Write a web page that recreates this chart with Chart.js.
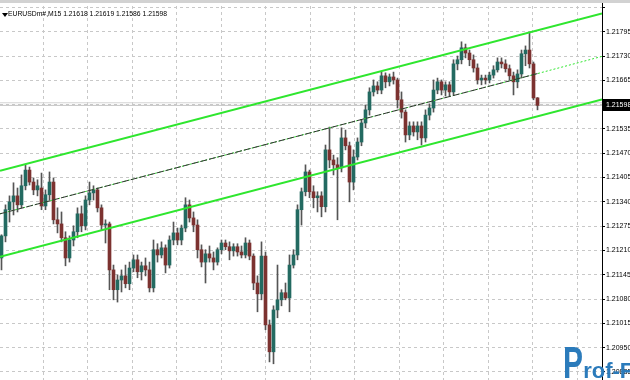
<!DOCTYPE html>
<html>
<head>
<meta charset="utf-8">
<script src="https://cdn.jsdelivr.net/npm/chart.js@4.4.1/dist/chart.umd.min.js"></script>
<style>
html,body{margin:0;padding:0;background:#fff;overflow:hidden}
#wrap{position:relative;width:630px;height:380px;overflow:hidden}
canvas{display:block}
#topbar{position:absolute;left:0;top:0;width:630px;height:3px;background:#d2d2d2}
#tri{position:absolute;left:2px;top:13px;width:0;height:0;border-left:3px solid transparent;border-right:3px solid transparent;border-top:4px solid #000}
#title{position:absolute;left:8px;top:10px;font:6.8px "Liberation Sans",Arial,sans-serif;color:#000;white-space:nowrap}
#logo{position:absolute;left:552px;top:341px;white-space:nowrap;font-family:"Liberation Sans",Arial,sans-serif;font-weight:bold;color:#2b7bbb;line-height:1}
#logo .u{font-size:20px;color:#1f5f9a}
#logo .P{font-size:44px;display:inline-block;width:20px;transform:scaleX(0.68);transform-origin:left bottom}
#logo .r{font-size:22px}
</style>
</head>
<body>
<div id="wrap">
<canvas id="c" width="630" height="380"></canvas>
<div id="topbar"></div>
<div id="tri"></div>
<div id="title">EURUSDm#,M15 1.21618 1.21619 1.21586 1.21598</div>
<div id="logo"><span class="u">_</span><span class="P">P</span><span class="r">rof-FX</span></div>
</div>
<script>
// ---- data (EURUSD M15) ----
const opens = [1.21190,1.21249,1.21319,1.21340,1.21356,1.21332,1.21383,1.21425,1.21393,1.21372,
1.21377,1.21329,1.21359,1.21393,1.21292,1.21281,1.21244,1.21190,1.21238,1.21260,
1.21308,1.21276,1.21345,1.21364,1.21372,1.21324,1.21278,1.21281,1.21158,1.21105,
1.21131,1.21142,1.21121,1.21163,1.21185,1.21153,1.21169,1.21158,1.21110,1.21212,
1.21198,1.21217,1.21171,1.21238,1.21257,1.21238,1.21270,1.21332,1.21297,1.21278,
1.21212,1.21179,1.21201,1.21190,1.21179,1.21212,1.21230,1.21220,1.21209,1.21220,
1.21206,1.21198,1.21230,1.21195,1.21123,1.21094,1.21195,1.21011,1.20939,1.21051,
1.21078,1.21097,1.21083,1.21171,1.21198,1.21319,1.21367,1.21420,1.21367,1.21351,
1.21356,1.21327,1.21479,1.21452,1.21439,1.21431,1.21511,1.21490,1.21393,1.21460,
1.21500,1.21551,1.21586,1.21634,1.21650,1.21639,1.21677,1.21661,1.21674,1.21666,
1.21613,1.21580,1.21519,1.21543,1.21527,1.21543,1.21511,1.21572,1.21591,1.21639,
1.21661,1.21639,1.21653,1.21634,1.21709,1.21720,1.21752,1.21738,1.21720,1.21698,
1.21666,1.21671,1.21666,1.21679,1.21693,1.21714,1.21709,1.21696,1.21677,1.21661,
1.21682,1.21736,1.21746,1.21709,1.21618];
const highs = [1.21252,1.21332,1.21356,1.21391,1.21377,1.21412,1.21439,1.21433,1.21404,1.21399,
1.21417,1.21372,1.21420,1.21404,1.21324,1.21313,1.21260,1.21249,1.21276,1.21324,
1.21329,1.21356,1.21393,1.21383,1.21377,1.21332,1.21292,1.21286,1.21171,1.21145,
1.21158,1.21171,1.21179,1.21198,1.21198,1.21179,1.21190,1.21179,1.21238,1.21228,
1.21233,1.21225,1.21249,1.21286,1.21270,1.21278,1.21351,1.21345,1.21313,1.21292,
1.21225,1.21212,1.21222,1.21206,1.21217,1.21238,1.21238,1.21233,1.21228,1.21228,
1.21222,1.21244,1.21238,1.21201,1.21142,1.21233,1.21206,1.21024,1.21062,1.21171,
1.21105,1.21123,1.21198,1.21212,1.21332,1.21377,1.21439,1.21425,1.21383,1.21367,
1.21367,1.21492,1.21540,1.21465,1.21458,1.21538,1.21532,1.21500,1.21479,1.21511,
1.21559,1.21599,1.21645,1.21666,1.21661,1.21687,1.21685,1.21682,1.21687,1.21671,
1.21634,1.21586,1.21554,1.21554,1.21554,1.21554,1.21586,1.21602,1.21666,1.21671,
1.21666,1.21661,1.21661,1.21720,1.21730,1.21768,1.21762,1.21746,1.21733,1.21709,
1.21679,1.21679,1.21687,1.21704,1.21725,1.21725,1.21720,1.21706,1.21687,1.21693,
1.21746,1.21757,1.21794,1.21714,1.21619];
const lows = [1.21158,1.21233,1.21286,1.21305,1.21313,1.21324,1.21372,1.21385,1.21359,1.21356,
1.21319,1.21319,1.21345,1.21281,1.21257,1.21233,1.21169,1.21179,1.21222,1.21244,
1.21260,1.21265,1.21332,1.21345,1.21313,1.21265,1.21230,1.21105,1.21078,1.21072,
1.21099,1.21110,1.21105,1.21153,1.21137,1.21131,1.21142,1.21099,1.21099,1.21179,
1.21190,1.21150,1.21163,1.21225,1.21225,1.21225,1.21260,1.21286,1.21260,1.21190,
1.21166,1.21123,1.21179,1.21158,1.21171,1.21201,1.21212,1.21185,1.21195,1.21195,
1.21190,1.21190,1.21185,1.21105,1.21046,1.21078,1.20998,1.20912,1.20907,1.21030,
1.21062,1.21078,1.21046,1.21163,1.21185,1.21278,1.21356,1.21351,1.21324,1.21313,
1.21300,1.21313,1.21431,1.21412,1.21292,1.21420,1.21479,1.21340,1.21372,1.21452,
1.21490,1.21538,1.21572,1.21623,1.21629,1.21629,1.21645,1.21650,1.21655,1.21591,
1.21564,1.21500,1.21506,1.21516,1.21506,1.21492,1.21500,1.21559,1.21580,1.21629,
1.21626,1.21623,1.21623,1.21626,1.21693,1.21709,1.21725,1.21704,1.21687,1.21655,
1.21653,1.21655,1.21658,1.21671,1.21687,1.21698,1.21687,1.21666,1.21626,1.21645,
1.21671,1.21704,1.21698,1.21613,1.21586];
const closes = [1.21249,1.21319,1.21340,1.21356,1.21332,1.21383,1.21425,1.21393,1.21372,1.21383,
1.21329,1.21359,1.21393,1.21292,1.21281,1.21244,1.21190,1.21238,1.21260,1.21308,
1.21276,1.21345,1.21364,1.21372,1.21324,1.21278,1.21281,1.21158,1.21105,1.21131,
1.21142,1.21121,1.21163,1.21185,1.21153,1.21169,1.21158,1.21110,1.21212,1.21198,
1.21217,1.21171,1.21238,1.21257,1.21238,1.21270,1.21332,1.21297,1.21278,1.21212,
1.21179,1.21201,1.21190,1.21179,1.21212,1.21230,1.21220,1.21209,1.21220,1.21206,
1.21198,1.21230,1.21195,1.21123,1.21094,1.21195,1.21011,1.20939,1.21051,1.21078,
1.21097,1.21083,1.21171,1.21198,1.21319,1.21367,1.21420,1.21367,1.21351,1.21356,
1.21327,1.21479,1.21452,1.21439,1.21431,1.21511,1.21490,1.21393,1.21460,1.21500,
1.21551,1.21586,1.21634,1.21650,1.21639,1.21677,1.21661,1.21674,1.21666,1.21613,
1.21580,1.21519,1.21543,1.21527,1.21543,1.21511,1.21572,1.21591,1.21639,1.21661,
1.21639,1.21653,1.21634,1.21709,1.21720,1.21752,1.21738,1.21720,1.21698,1.21666,
1.21671,1.21666,1.21679,1.21693,1.21714,1.21709,1.21696,1.21677,1.21661,1.21682,
1.21736,1.21746,1.21709,1.21618,1.21598];

const yTicks = [1.20885,1.20950,1.21015,1.21080,1.21145,1.21210,1.21275,1.21340,
1.21405,1.21470,1.21535,1.21600,1.21665,1.21730,1.21795,1.21860];

// regression channel (bar index -> price)
const channelX = [-0.375, 150.125];
const channelUpper = [1.21423, 1.21844];
const channelLower = [1.21193, 1.21614];
const regressionX = [-0.375, 134, 150.125];
const regressionMid = [1.21308, 1.21683, 1.21729];
const bidPrice = 1.21598;
const askPrice = 1.21605;

// ---- layout / style ----
const X_MIN = -0.375, X_MAX = 150.125;
const Y_MIN = 1.208636, Y_MAX = 1.218798;
const xGridStart = 10.45, xGridStep = 11.125;
const BULL = '#236a61', BEAR = '#7c3230', WICK = '#555555', GREEN = '#2ee62e';

const idx = closes.map((_, i) => i);
const pts = (xs, ys) => xs.map((x, i) => ({x, y: ys[i]}));

const priceBox = {
  id: 'priceBox',
  afterDraw(chart) {
    const {ctx, chartArea, scales: {y}} = chart;
    const py = Math.round(y.getPixelForValue(bidPrice));
    ctx.save();
    ctx.fillStyle = '#000';
    ctx.fillRect(chartArea.right + 1, py - 6, 630 - chartArea.right, 12);
    ctx.fillStyle = '#fff';
    ctx.font = '7px "Liberation Sans", Arial, sans-serif';
    ctx.textBaseline = 'middle';
    ctx.textAlign = 'left';
    ctx.fillText(bidPrice.toFixed(5), chartArea.right + 4, py + 0.5);
    ctx.restore();
  }
};

new Chart(document.getElementById('c'), {
  type: 'bar',
  data: {
    datasets: [
      {type:'line', data: pts(channelX, channelUpper), borderColor: GREEN, borderWidth: 2, pointRadius: 0, order: 0},
      {type:'line', data: pts(channelX, channelLower), borderColor: GREEN, borderWidth: 2, pointRadius: 0, order: 0},
      {type:'line', data: pts(regressionX.slice(0,2), regressionMid.slice(0,2)), borderColor: '#333333', borderWidth: 1, borderDash:[7,2], pointRadius: 0, order: 0},
      {type:'line', data: pts(regressionX, regressionMid), borderColor: GREEN, borderWidth: 1, borderDash:[2,2], pointRadius: 0, order: 1},
      {type:'line', data: pts(channelX, [bidPrice, bidPrice]), borderColor: '#c4c4c4', borderWidth: 1, pointRadius: 0, order: 5},
      {type:'line', data: pts(channelX, [askPrice, askPrice]), borderColor: '#d4d4d4', borderWidth: 1, pointRadius: 0, order: 5},
      {data: idx.map(i => ({x: i, y: [lows[i], highs[i]]})), backgroundColor: WICK, barThickness: 1, grouped: false, order: 3},
      {data: idx.map(i => ({x: i, y: [opens[i], closes[i]]})), backgroundColor: idx.map(i => closes[i] >= opens[i] ? BULL : BEAR),
        barThickness: 3, minBarLength: 1, grouped: false, order: 2}
    ]
  },
  options: {
    responsive: false, animation: false, devicePixelRatio: 1,
    layout: {padding: 0},
    plugins: {legend: {display: false}, tooltip: {enabled: false}},
    scales: {
      x: {
        type: 'linear', min: X_MIN, max: X_MAX, offset: false,
        ticks: {display: false},
        grid: {color: '#c8c8c8', drawTicks: false, offset: false},
        border: {display: false, dash: [3, 3]},
        afterBuildTicks: s => {
          const t = [];
          for (let v = xGridStart; v < X_MAX; v += xGridStep) t.push({value: v});
          s.ticks = t;
        },
        afterFit: s => { s.height = 0; s.paddingLeft = 0; s.paddingRight = 0; }
      },
      y: {
        position: 'right', min: Y_MIN, max: Y_MAX,
        ticks: {
          autoSkip: false, color: '#000', padding: 1,
          font: {family: '"Liberation Sans", Arial, sans-serif', size: 7},
          callback: (v, i) => i === yTicks.length - 1 ? '' : Number(v).toFixed(5)
        },
        grid: {color: '#c8c8c8', tickColor: '#000', tickLength: 3, tickBorderDash: []},
        border: {display: true, color: '#000', width: 1, dash: [3, 3]},
        afterBuildTicks: s => { s.ticks = yTicks.map(v => ({value: v})); },
        afterFit: s => { s.width = 28; s.paddingTop = 0; s.paddingBottom = 0; }
      }
    }
  },
  plugins: [priceBox]
});
</script>
</body>
</html>
